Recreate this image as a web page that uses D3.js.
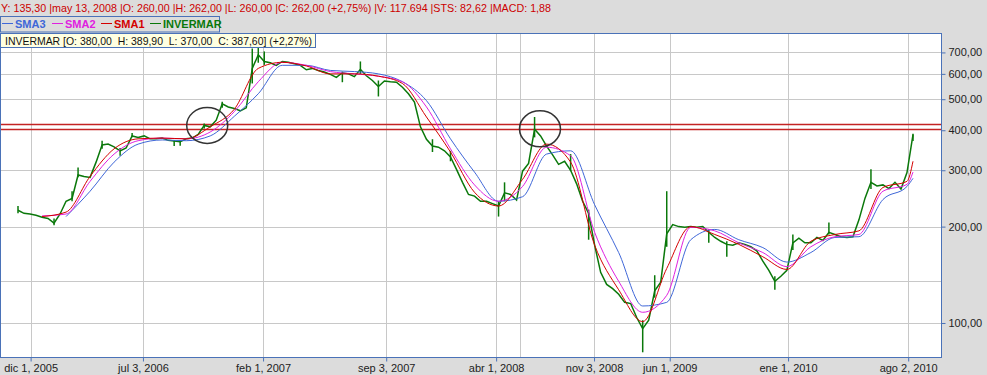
<!DOCTYPE html>
<html>
<head>
<meta charset="utf-8">
<script src="https://cdn.jsdelivr.net/npm/d3@7"></script>
<style>
body { margin: 0; background: #dcdcdc; }
svg { display: block; font-family: "Liberation Sans", Arial, sans-serif; }
</style>
</head>
<body>
<svg id="chart" width="987" height="375"></svg>
<script>
// closing prices, one per bar (trading periods, left to right)
var closes = [
  225, 220, 219, 217, 214, 212, 205, 219, 240, 245,
  290, 287, 285, 318, 360, 362, 355, 345, 352, 384,
  380, 384, 376, 376, 378, 372, 370, 368, 376, 378,
  388, 414, 410, 430, 484, 473, 468, 460, 470, 624,
  688, 656, 650, 638, 656, 652, 645, 638, 618, 624,
  615, 608, 598, 585, 605, 600, 588, 620, 592, 572,
  548, 570, 567, 565, 545, 520, 490, 410, 375, 357,
  354, 345, 330, 302, 275, 252, 249, 240, 240, 236,
  232, 255, 252, 242, 298, 315, 403, 384, 357, 335,
  313, 320, 300, 272, 240, 220, 175, 144, 132, 128,
  123, 116, 115, 104, 96, 102, 126, 134, 190, 203,
  200, 199, 200, 199, 200, 192, 185, 180, 176, 175,
  178, 176, 173, 168, 156, 146, 135, 140, 146, 178,
  184, 178, 178, 185, 181, 192, 189, 186, 185, 186,
  210, 245, 275, 268, 270, 263, 275, 262, 295, 387.6
];
// [bar, low, high] for the bars with a visible range
var spikes = [
  [0, 220, 232], [6, 202, 212], [9, 240, 258], [10, 285, 306], [14, 350, 371],
  [17, 333, 352], [19, 380, 392], [26, 357, 372], [27, 358, 372], [31, 405, 420],
  [34, 470, 491], [39, 560, 720], [40, 650, 731], [41, 640, 705], [54, 565, 610],
  [57, 600, 656], [60, 510, 572], [69, 342, 375], [72, 320, 345], [80, 215, 240],
  [81, 240, 275], [86, 380, 440], [92, 298, 337], [95, 182, 226], [104, 81, 102],
  [106, 120, 141], [108, 173, 258], [115, 178, 196], [118, 161, 180], [126, 127, 140],
  [129, 169, 189], [135, 189, 206], [142, 262, 302], [149, 370, 389.9]
];
// moving averages, read at these bars
var smaIdx = [0, 4, 8, 12, 16, 20, 24, 28, 32, 36, 40, 44, 48, 52, 56, 60, 64, 68, 72, 76,
  80, 84, 88, 92, 96, 100, 104, 108, 112, 116, 120, 124, 128, 132, 136, 140, 144, 148, 149];
var sma1 = [null, 215, 222, 287, 350, 376, 378, 376, 410, 465, 624, 652, 635, 600, 600, 590, 560, 440, 342, 256,
  232, 281, 362, 318, 175, 127, 101, 148, 200, 189, 176, 161, 147, 180, 189, 194, 265, 277, 320];
var sma2 = [null, 216, 219, 277, 337, 371, 378, 376, 395, 457, 567, 652, 638, 610, 600, 590, 567, 473, 350, 270,
  240, 267, 354, 333, 192, 135, 108, 122, 199, 194, 178, 166, 150, 173, 186, 189, 258, 271, 296];
var sma3 = [null, null, 215, 258, 318, 362, 373, 371, 384, 442, 520, 638, 638, 615, 610, 600, 567, 495, 376, 296,
  240, 248, 337, 345, 234, 166, 113, 116, 182, 196, 182, 172, 155, 166, 185, 186, 243, 267, 283];

var tickIdx = [2.1, 20.8, 40.8, 61.3, 79.6, 95.9, 108.5, 128.2, 148.2];
var tickLabels = ["dic 1, 2005", "jul 3, 2006", "feb 1, 2007", "sep 3, 2007", "abr 1, 2008",
  "nov 3, 2008", "jun 1, 2009", "ene 1, 2010", "ago 2, 2010"];
var priceTicks = [100, 200, 300, 400, 500, 600, 700];
var levels = [418, 404];
var marks = [[31.5, 414], [86.9, 404]];
var cursor = [83.6, 135.3];

var headerText = "Y: 135,30 |may 13, 2008 |O: 260,00 |H: 262,00 |L: 260,00 |C: 262,00 (+2,75%) |V: 117.694 |STS: 82,62 |MACD: 1,88";
var infoText = "INVERMAR [O: 380,00  H: 389,90  L: 370,00  C: 387,60] (+2,27%)";
var legendItems = [
  { name: "SMA3", color: "#3f67d8", x: 2 },
  { name: "SMA2", color: "#e020e0", x: 52 },
  { name: "SMA1", color: "#d40000", x: 101 },
  { name: "INVERMAR", color: "#0a780a", x: 150 }
];

var svg = d3.select("#chart");
var L = 0, R = 941, T = 33, B = 357;
var border = "#4a72b8", grid = "#c8c8c8";

var x = d3.scaleLinear().domain([0, closes.length - 1]).range([18, 913]);
var y = d3.scaleLog().domain([78.3, 805]).range([B, T]);

svg.append("rect").attr("width", 987).attr("height", 375).attr("fill", "#dcdcdc");
svg.append("rect").attr("x", L).attr("y", T).attr("width", R - L).attr("height", B - T).attr("fill", "#fff");

svg.append("clipPath").attr("id", "plot")
  .append("rect").attr("x", L).attr("y", T).attr("width", R - L).attr("height", B - T);
var g = svg.append("g").attr("clip-path", "url(#plot)");

// grid (the 400 line sits under the resistance lines)
var hGrid = priceTicks.filter(function(d) { return d !== 400; }).concat([cursor[1]]);
g.selectAll(".hg").data(hGrid).enter().append("line")
  .attr("x1", L).attr("x2", R)
  .attr("y1", function(d) { return Math.round(y(d)) + 0.5; })
  .attr("y2", function(d) { return Math.round(y(d)) + 0.5; })
  .attr("stroke", grid);
g.selectAll(".vg").data(tickIdx.concat([cursor[0]])).enter().append("line")
  .attr("y1", T).attr("y2", B)
  .attr("x1", function(d) { return Math.round(x(d)) + 0.5; })
  .attr("x2", function(d) { return Math.round(x(d)) + 0.5; })
  .attr("stroke", grid);

// resistance lines
g.selectAll(".lv").data(levels).enter().append("line")
  .attr("x1", L).attr("x2", R)
  .attr("y1", function(d) { return Math.round(y(d)) + 0.5; })
  .attr("y2", function(d) { return Math.round(y(d)) + 0.5; })
  .attr("stroke", "#c42424").attr("stroke-width", 1.3);

// price
g.selectAll(".sp").data(spikes).enter().append("line")
  .attr("x1", function(d) { return x(d[0]); })
  .attr("x2", function(d) { return x(d[0]); })
  .attr("y1", function(d) { return y(d[1]); })
  .attr("y2", function(d) { return y(d[2]); })
  .attr("stroke", "#0a780a").attr("stroke-width", 1.5);
g.append("path")
  .attr("d", d3.line().x(function(d, i) { return x(i); }).y(function(d) { return y(d); })(closes))
  .attr("fill", "none").attr("stroke", "#0a780a").attr("stroke-width", 1.5);

// moving averages
var smaLine = d3.line()
  .defined(function(d) { return d[1] != null; })
  .x(function(d) { return x(d[0]); })
  .y(function(d) { return y(d[1]); })
  .curve(d3.curveMonotoneX);
[[sma3, "#3f67d8"], [sma2, "#e020e0"], [sma1, "#d40000"]].forEach(function(s) {
  g.append("path")
    .attr("d", smaLine(smaIdx.map(function(k, i) { return [k, s[0][i]]; })))
    .attr("fill", "none").attr("stroke", s[1]).attr("stroke-width", 1);
});

// circled areas
g.selectAll(".mk").data(marks).enter().append("ellipse")
  .attr("cx", function(d) { return x(d[0]); })
  .attr("cy", function(d) { return y(d[1]); })
  .attr("rx", 20.5).attr("ry", 18)
  .attr("fill", "none").attr("stroke", "#333").attr("stroke-width", 1.5);

// frame
svg.append("rect").attr("x", L + 0.5).attr("y", T + 0.5).attr("width", R - L).attr("height", B - T)
  .attr("fill", "none").attr("stroke", border);

// axes
var yAxis = svg.append("g").attr("transform", "translate(" + (R + 0.5) + ",0)")
  .call(d3.axisRight(y).tickValues(priceTicks).tickSize(4)
    .tickFormat(function(d) { return d3.format(".2f")(d).replace(".", ","); }));
var xAxis = svg.append("g").attr("transform", "translate(0," + (B + 0.5) + ")")
  .call(d3.axisBottom(x).tickValues(tickIdx).tickSize(4)
    .tickFormat(function(d, i) { return tickLabels[i]; }));
[yAxis, xAxis].forEach(function(a) {
  a.select(".domain").remove();
  a.selectAll("line").attr("stroke", border);
  a.selectAll("text").attr("fill", "#222").style("font-size", "11px")
    .style("font-family", "'Liberation Sans', Arial, sans-serif");
});

// header
svg.append("text").attr("x", 1).attr("y", 12).attr("fill", "#cc0000")
  .style("font-size", "11px").attr("textLength", 550).attr("lengthAdjust", "spacingAndGlyphs")
  .text(headerText);

// legend
svg.append("rect").attr("x", 0.5).attr("y", 16.5).attr("width", 219).attr("height", 15.5)
  .attr("fill", "none").attr("stroke", border);
var lg = svg.selectAll(".lg").data(legendItems).enter().append("g");
lg.append("line")
  .attr("x1", function(d) { return d.x; }).attr("x2", function(d) { return d.x + 11; })
  .attr("y1", 23.5).attr("y2", 23.5).attr("stroke", function(d) { return d.color; });
lg.append("text")
  .attr("x", function(d) { return d.x + 13; }).attr("y", 28)
  .attr("fill", function(d) { return d.color; })
  .style("font-size", "11px").style("font-weight", "bold")
  .text(function(d) { return d.name; });

// info box
svg.append("rect").attr("x", 0.5).attr("y", 33.5).attr("width", 315).attr("height", 14)
  .attr("fill", "#ffffe1").attr("stroke", border);
svg.append("text").attr("x", 5).attr("y", 44.5).attr("fill", "#111")
  .style("font-size", "11px").style("white-space", "pre")
  .attr("textLength", 307).attr("lengthAdjust", "spacingAndGlyphs")
  .text(infoText);
</script>
</body>
</html>
